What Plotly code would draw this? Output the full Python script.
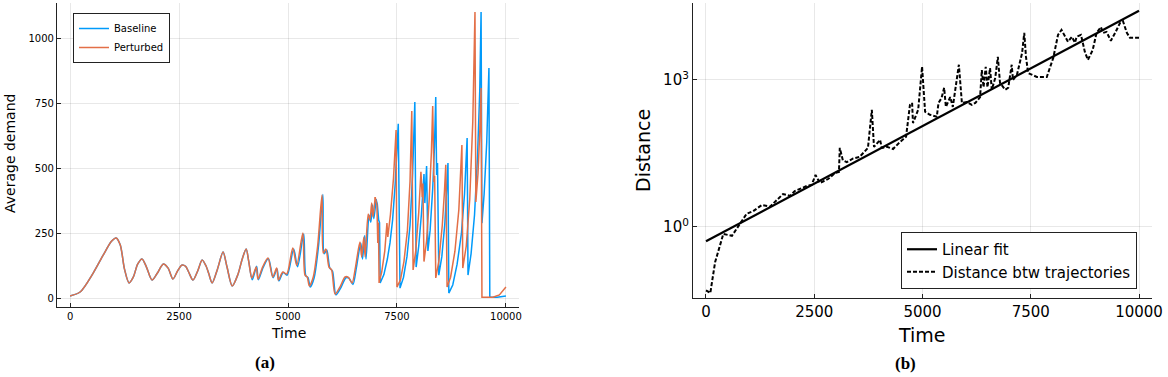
import plotly.graph_objects as go

W, H = 1168, 377

# ---------------- data: panel (a) ----------------
t_base_smooth = [0, 230, 530, 760, 950, 1055, 1150, 1250, 1353, 1450, 1550, 1650, 1750, 1880, 2000,
                 2140, 2250, 2360, 2470, 2570, 2650, 2720, 2820, 2930, 3030, 3120, 3180, 3260, 3380,
                 3510, 3600, 3720, 3850, 3950, 4040, 4100, 4180, 4280, 4320, 4430, 4550, 4660, 4750,
                 4790, 4890, 4980, 5130, 5220, 5360, 5410, 5460, 5510, 5600, 5700, 5800, 5830, 5890,
                 5960, 6020, 6100, 6220, 6330, 6400, 6490, 6570, 6670, 6710, 6760, 6790, 6860, 6900,
                 6940, 6970, 7020]
y_base_smooth = [8, 23, 96, 165, 218, 231, 205, 110, 58, 80, 130, 150, 120, 69, 95,
                 131, 115, 73, 105, 127, 122, 100, 69, 105, 146, 123, 95, 58, 110,
                 177, 120, 46, 90, 150, 188, 140, 70, 122, 70, 118, 152, 78, 112,
                 66, 98, 88, 188, 120, 246, 85, 78, 42, 78, 200, 398, 170, 185,
                 115, 104, 12, 42, 78, 76, 52, 118, 212, 150, 240, 150, 318, 292,
                 358, 305, 380]
t_pert_smooth = [0, 230, 530, 760, 950, 1055, 1150, 1250, 1353, 1450, 1550, 1650, 1750, 1880, 2000,
                 2140, 2250, 2360, 2470, 2570, 2650, 2720, 2820, 2930, 3030, 3120, 3180, 3260, 3380,
                 3510, 3600, 3720, 3850, 3950, 4040, 4100, 4170, 4270, 4310, 4420, 4540, 4650, 4740,
                 4780, 4880, 4970, 5110, 5200, 5340, 5390, 5440, 5490, 5580, 5680, 5780, 5810, 5870,
                 5940, 6000, 6080, 6200, 6310, 6380, 6470, 6550, 6650, 6690, 6740, 6770, 6840, 6880,
                 6920, 6950, 7000]
y_pert_smooth = [8, 23, 96, 165, 218, 231, 205, 110, 58, 80, 130, 150, 120, 69, 95,
                 131, 115, 73, 105, 127, 122, 100, 69, 105, 146, 123, 95, 58, 110,
                 177, 120, 46, 90, 150, 188, 140, 77, 119, 73, 120, 154, 81, 115,
                 69, 100, 92, 192, 125, 250, 88, 81, 46, 81, 200, 396, 173, 188,
                 119, 108, 15, 45, 81, 80, 58, 120, 215, 158, 235, 158, 323, 300,
                 365, 312, 388]

t_base_sharp = [7020, 7050, 7080, 7100, 7115,
                7200, 7280, 7340, 7400, 7460, 7530, 7570,
                7650, 7730, 7800, 7860, 7910, 7940,
                8000, 8060, 8120, 8140, 8180, 8210,
                8260, 8320, 8360, 8390, 8410, 8430, 8460,
                8530, 8600, 8640, 8670, 8690,
                8780, 8880, 8980, 9050, 9110, 9130,
                9200, 9280, 9350, 9400, 9430, 9450,
                9500, 9560, 9610, 9630, 9800, 10000]
y_base_sharp = [380, 360, 300, 290, 58,
                90, 150, 212, 300, 440, 670, 38,
                80, 160, 280, 480, 754, 119,
                200, 320, 477, 365, 508, 181,
                260, 420, 580, 773, 473, 519, 88,
                160, 290, 400, 519, 19,
                50, 130, 250, 400, 615, 88,
                170, 320, 550, 800, 1100, 288,
                400, 600, 885, 3, 3, 8]
t_pert_sharp = [7000, 7040, 7060, 7075, 7090,
                7150, 7220, 7270, 7290, 7350, 7420, 7480, 7500,
                7580, 7660, 7740, 7800, 7840, 7870,
                7930, 8000, 8050, 8080, 8095, 8120,
                8180, 8240, 8290, 8320, 8350, 8365, 8390,
                8460, 8540, 8590, 8620, 8650,
                8730, 8830, 8920, 8990, 9010,
                9090, 9170, 9240, 9290, 9310,
                9360, 9400, 9430, 9450, 9700, 9850, 10000]
y_pert_sharp = [388, 358, 212, 290, 58,
                100, 180, 288, 235, 320, 460, 646, 42,
                70, 140, 260, 450, 719, 108,
                180, 330, 485, 388, 440, 140,
                220, 380, 560, 738, 446, 470, 77,
                140, 280, 410, 512, 42,
                80, 180, 340, 588, 115,
                200, 380, 680, 1100, 369,
                480, 640, 808, 3, 3, 12, 42]

x_ticks = [0, 2500, 5000, 7500, 10000]
x_tick_text = ["0", "2500", "5000", "7500", "10000"]
y_ticks_a = [0, 250, 500, 750, 1000]

# ---------------- data: panel (b) ----------------
t_dist = [0, 100, 210, 400, 600, 785, 940, 1090, 1290, 1480, 1630, 1780, 1940, 2050, 2210, 2330,
          2440, 2530, 2630, 2820, 2980, 3070, 3090, 3160, 3250, 3400, 3550, 3740, 3830, 3880,
          4020, 4060, 4180, 4320, 4480, 4620, 4710, 4760, 4780, 4900, 4990, 5060, 5170, 5330,
          5370, 5440, 5500, 5540, 5640, 5700, 5840, 5910, 6020, 6140, 6220, 6330, 6370, 6410,
          6460, 6500, 6560, 6600, 6680, 6740, 6790, 6910, 6980, 7060, 7090, 7180, 7300, 7350,
          7390, 7440, 7640, 7870, 8020, 8130, 8210, 8290, 8360, 8450, 8520, 8560, 8660, 8750,
          8820, 8930, 9020, 9120, 9170, 9250, 9350, 9450, 9560, 9630, 9720, 9790, 9950, 10000]
d_dist = [0.051, 0.045, 0.19, 0.72, 0.66, 1.2, 1.86, 2.1, 2.8, 2.6, 3.5, 4.7, 4.3, 5.4, 6.2, 6.9,
          7.2, 11.5, 7.9, 9.5, 12.6, 13.2, 41, 23, 21, 25, 27, 41, 245, 43,
          60, 41, 43, 39, 54, 69, 309, 339, 132, 245, 1860, 224, 195, 178,
          339, 427, 692, 282, 447, 282, 2040, 339, 355, 309, 339, 447, 1585, 708,
          1860, 708, 1740, 631, 1100, 2950, 871, 631, 692, 2040, 1000, 1260, 3550, 9120,
          2950, 1380, 1150, 1150, 2820, 8320, 10500, 7590, 6030, 7590, 5750, 7590, 8320, 3720,
          2570, 4070, 9120, 12000, 9120, 9550, 6310, 9120, 14500, 15800, 9120, 7240, 7240, 7240]
t_fit = [0, 10000]
d_fit = [0.51, 25700]

BLUE = "#009AFA"
RED = "#E36F47"
FONT = "DejaVu Sans"

fig = go.Figure()

fig.add_trace(go.Scatter(x=t_base_smooth, y=y_base_smooth, mode="lines", name="Baseline",
                         line=dict(color=BLUE, width=1.5, shape="spline", smoothing=0.8),
                         legendgroup="b", xaxis="x", yaxis="y", legend="legend"))
fig.add_trace(go.Scatter(x=t_base_sharp, y=y_base_sharp, mode="lines", name="Baseline",
                         line=dict(color=BLUE, width=1.5), showlegend=False,
                         legendgroup="b", xaxis="x", yaxis="y"))
fig.add_trace(go.Scatter(x=t_pert_smooth, y=y_pert_smooth, mode="lines", name="Perturbed",
                         line=dict(color=RED, width=1.5, shape="spline", smoothing=0.8),
                         legendgroup="p", xaxis="x", yaxis="y", legend="legend"))
fig.add_trace(go.Scatter(x=t_pert_sharp, y=y_pert_sharp, mode="lines", name="Perturbed",
                         line=dict(color=RED, width=1.5), showlegend=False,
                         legendgroup="p", xaxis="x", yaxis="y"))

fig.add_trace(go.Scatter(x=t_fit, y=d_fit, mode="lines", name="Linear fit",
                         line=dict(color="black", width=2.2), xaxis="x2", yaxis="y2", legend="legend2"))
fig.add_trace(go.Scatter(x=t_dist, y=d_dist, mode="lines", name="Distance btw trajectories",
                         line=dict(color="black", width=2, dash="4px,2px"), xaxis="x2", yaxis="y2",
                         legend="legend2"))

def px_x(v):
    return v / W

def px_y(v):
    return 1 - v / H

axis_common = dict(showline=True, linecolor="#222", linewidth=1.2, ticks="inside", ticklen=4,
                   tickcolor="#222", showgrid=True, gridcolor="rgba(0,0,0,0.09)", gridwidth=1,
                   zeroline=False, mirror=False, automargin=False)

fig.update_layout(
    width=W, height=H,
    margin=dict(l=0, r=0, t=0, b=0),
    paper_bgcolor="white", plot_bgcolor="white",
    font=dict(family=FONT, color="black"),
    xaxis=dict(domain=[px_x(57), px_x(519)], range=[-300, 10300], tickvals=x_ticks,
               ticktext=x_tick_text, tickfont=dict(size=10), anchor="y", **axis_common),
    yaxis=dict(domain=[px_y(307), px_y(3)], range=[-34.6, 1134.6], tickvals=y_ticks_a,
               tickfont=dict(size=10), anchor="x", **axis_common),
    xaxis2=dict(domain=[px_x(693), px_x(1152)], range=[-300, 10300], tickvals=x_ticks,
                ticktext=x_tick_text, tickfont=dict(size=15), anchor="y2", **axis_common),
    yaxis2=dict(domain=[px_y(298), px_y(3)], type="log", range=[-1.45, 4.57],
                tickvals=[1, 1000], ticktext=["10<sup>0</sup>", "10<sup>3</sup>"],
                tickfont=dict(size=15), anchor="x2", **axis_common),
    legend=dict(x=px_x(73), y=px_y(13), xanchor="left", yanchor="top", bgcolor="white",
                bordercolor="#222", borderwidth=1, font=dict(size=10, family=FONT),
                itemwidth=30, tracegroupgap=0),
    legend2=dict(x=px_x(1137), y=px_y(289), xanchor="right", yanchor="bottom", bgcolor="white",
                 bordercolor="#222", borderwidth=1, font=dict(size=15, family=FONT),
                 itemwidth=30, tracegroupgap=0),
    annotations=[
        dict(text="Time", x=px_x(288), y=px_y(333), xref="paper", yref="paper", showarrow=False,
             font=dict(size=14, family=FONT), xanchor="center", yanchor="middle"),
        dict(text="Average demand", x=px_x(10), y=px_y(154), xref="paper", yref="paper",
             showarrow=False, textangle=-90, font=dict(size=14, family=FONT),
             xanchor="center", yanchor="middle"),
        dict(text="Time", x=px_x(922), y=px_y(335), xref="paper", yref="paper", showarrow=False,
             font=dict(size=19, family=FONT), xanchor="center", yanchor="middle"),
        dict(text="Distance", x=px_x(643), y=px_y(151), xref="paper", yref="paper",
             showarrow=False, textangle=-90, font=dict(size=19, family=FONT),
             xanchor="center", yanchor="middle"),
        dict(text="<b>(a)</b>", x=px_x(265), y=px_y(362), xref="paper", yref="paper",
             showarrow=False, font=dict(size=17, family="Liberation Serif"),
             xanchor="center", yanchor="middle"),
        dict(text="<b>(b)</b>", x=px_x(905), y=px_y(363), xref="paper", yref="paper",
             showarrow=False, font=dict(size=17, family="Liberation Serif"),
             xanchor="center", yanchor="middle"),
    ],
)

fig.write_html("out.html", config={"displayModeBar": False},
               post_script="document.body.style.margin='0';document.body.style.overflow='hidden';")
